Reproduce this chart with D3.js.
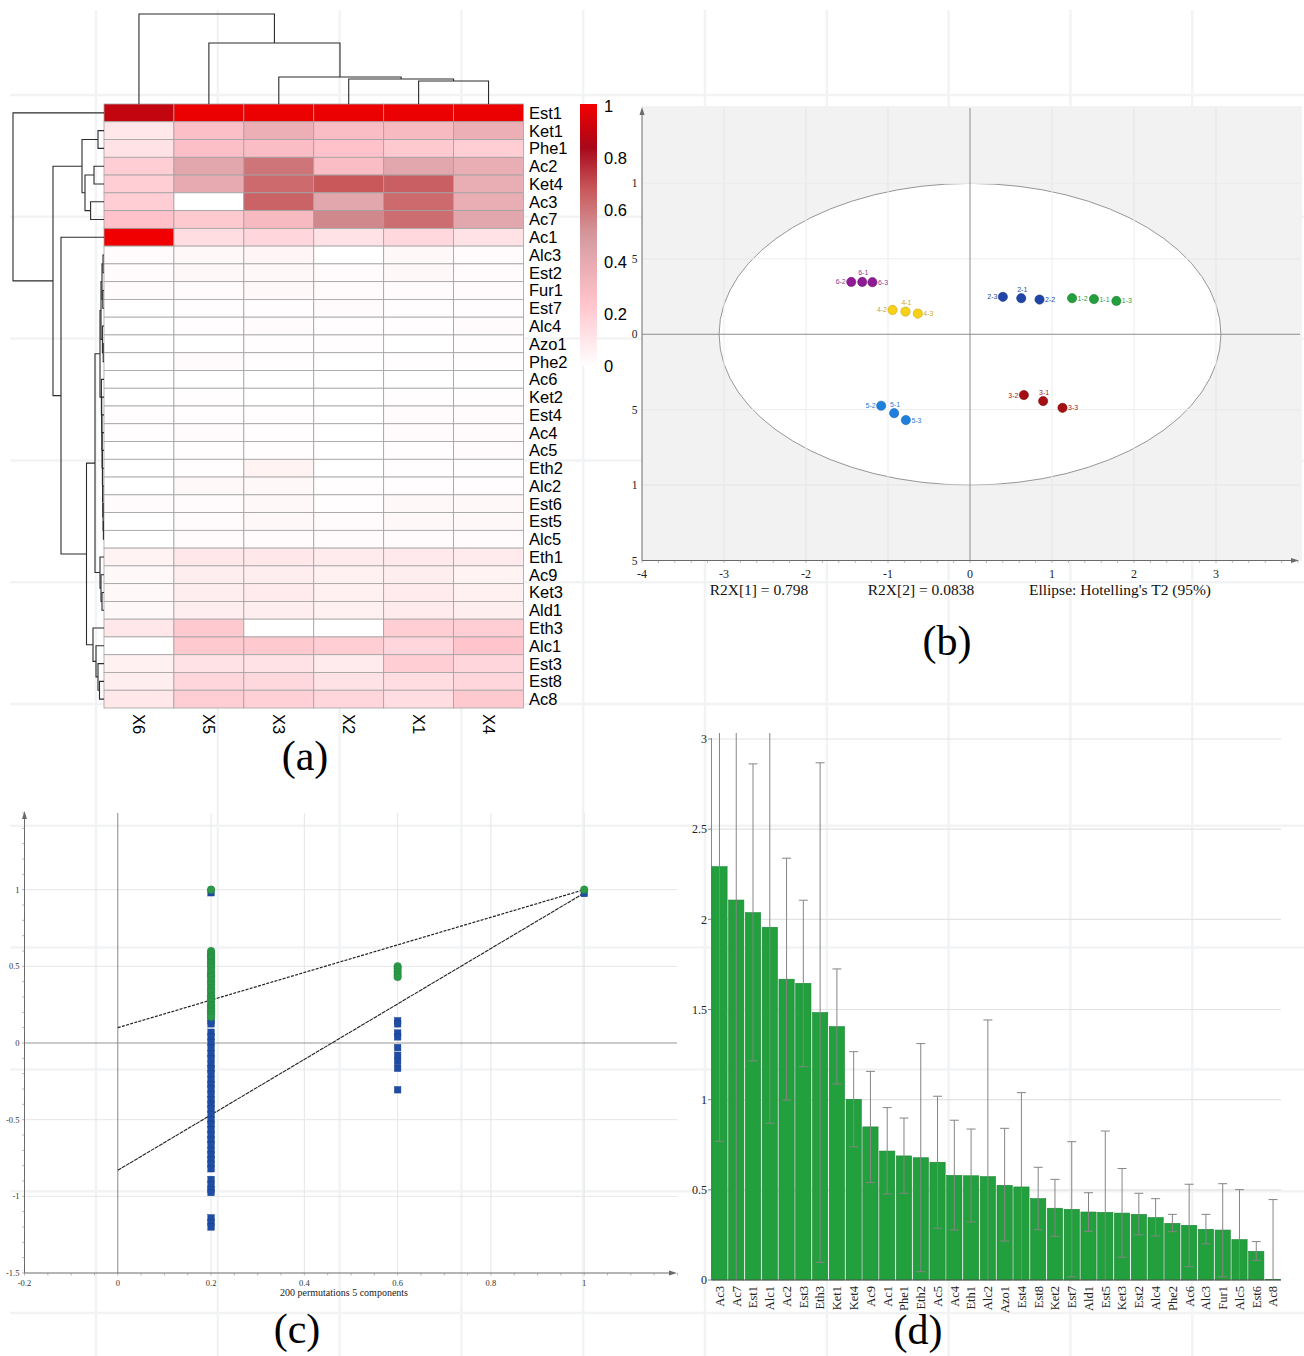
<!DOCTYPE html>
<html><head><meta charset="utf-8">
<script src="https://cdn.jsdelivr.net/npm/d3@7"></script>
<style>body{margin:0;background:#fff}svg{display:block}</style>
</head><body>
<svg id="fig" width="1304" height="1356"></svg>
<script>
// ================= DATA =================
// (a) heatmap
const heatCols = ["X6","X5","X3","X2","X1","X4"];
const heatRows = ["Est1","Ket1","Phe1","Ac2","Ket4","Ac3","Ac7","Ac1","Alc3","Est2","Fur1","Est7","Alc4","Azo1","Phe2","Ac6","Ket2","Est4","Ac4","Ac5","Eth2","Alc2","Est6","Est5","Alc5","Eth1","Ac9","Ket3","Ald1","Eth3","Alc1","Est3","Est8","Ac8"];
const heatValues = [
  [0.90,0.99,0.99,0.99,0.99,0.99],
  [0.10,0.27,0.37,0.28,0.30,0.37],
  [0.12,0.27,0.28,0.25,0.22,0.20],
  [0.20,0.42,0.60,0.28,0.42,0.38],
  [0.20,0.40,0.63,0.68,0.66,0.38],
  [0.20,0.00,0.65,0.42,0.63,0.38],
  [0.25,0.22,0.30,0.55,0.62,0.42],
  [1.00,0.14,0.17,0.12,0.16,0.12],
  [0.02,0.03,0.04,0.00,0.03,0.02],
  [0.02,0.03,0.03,0.02,0.03,0.02],
  [0.02,0.02,0.03,0.02,0.02,0.02],
  [0.00,0.01,0.01,0.02,0.01,0.01],
  [0.00,0.01,0.02,0.01,0.01,0.02],
  [0.00,0.00,0.01,0.01,0.00,0.01],
  [0.00,0.02,0.01,0.00,0.01,0.01],
  [0.00,0.00,0.00,0.00,0.00,0.00],
  [0.00,0.01,0.00,0.00,0.01,0.01],
  [0.01,0.01,0.01,0.00,0.02,0.02],
  [0.01,0.02,0.01,0.00,0.02,0.02],
  [0.00,0.01,0.01,0.00,0.01,0.02],
  [0.00,0.01,0.05,0.00,0.01,0.01],
  [0.00,0.03,0.03,0.01,0.01,0.01],
  [0.02,0.02,0.03,0.01,0.03,0.03],
  [0.00,0.02,0.03,0.02,0.03,0.03],
  [0.00,0.02,0.02,0.02,0.02,0.02],
  [0.05,0.10,0.10,0.08,0.09,0.08],
  [0.03,0.07,0.07,0.06,0.07,0.05],
  [0.03,0.07,0.08,0.06,0.08,0.06],
  [0.03,0.07,0.07,0.06,0.08,0.07],
  [0.10,0.22,0.00,0.00,0.20,0.20],
  [0.00,0.22,0.22,0.20,0.17,0.24],
  [0.06,0.12,0.12,0.08,0.20,0.17],
  [0.07,0.17,0.16,0.12,0.14,0.17],
  [0.10,0.20,0.19,0.17,0.14,0.22]
];
const legendTicks = [0,0.2,0.4,0.6,0.8,1];
const colorStops = [0,0.25,0.5,0.68,0.84,1];
// dendrograms: h = merge height (arbitrary distance units)
const colTree = {h:90,c:["X6",{h:61,c:["X5",{h:27,c:["X3",{h:25,c:["X2",{h:23,c:["X1","X4"]}]}]}]}]};
const rowTree = {h:91,c:["Est1",
  {h:51,c:[
    {h:22,c:[{h:6,c:["Ket1","Phe1"]},{h:19,c:[{h:10,c:["Ac2","Ket4"]},{h:13.4,c:["Ac3","Ac7"]}]}]},
    {h:43,c:["Ac1",
      {h:17.5,c:[
        {h:9,c:[
          {h:4,c:[
            {h:3,c:[{h:2,c:[{h:1,c:["Alc3","Est2"]},{h:1.2,c:["Fur1","Est7"]}]},{h:1.6,c:["Alc4",{h:0.8,c:["Azo1","Phe2"]}]}]},
            {h:2.6,c:["Ac6",{h:2.3,c:["Ket2",{h:2.1,c:["Est4",{h:1.9,c:["Ac4",{h:1.6,c:["Ac5",{h:1.4,c:["Eth2",{h:1.2,c:["Alc2",{h:0.9,c:["Est6",{h:0.6,c:["Est5","Alc5"]}]}]}]}]}]}]}]}]}
          ]},
          {h:4,c:["Eth1",{h:3,c:["Ac9",{h:2,c:["Ket3","Ald1"]}]}]}
        ]},
        {h:11,c:["Eth3",{h:8,c:["Alc1",{h:6,c:["Est3",{h:4.5,c:["Est8","Ac8"]}]}]}]}
      ]}
    ]}
  ]}
]};

// (b) PCA scores
const scoreIds = ["1-1","1-2","1-3","2-1","2-2","2-3","3-1","3-2","3-3","4-1","4-2","4-3","5-1","5-2","5-3","6-1","6-2","6-3"];
const scoreGroup = [1,1,1,2,2,2,3,3,3,4,4,4,5,5,5,6,6,6];
const scoreT1 = [1.512,1.245,1.785,0.625,0.848,0.401,0.892,0.657,1.128,-0.787,-0.945,-0.636,-0.925,-1.083,-0.782,-1.314,-1.448,-1.190];
const scoreT2 = [0.233,0.239,0.221,0.239,0.230,0.248,-0.443,-0.403,-0.488,0.150,0.161,0.137,-0.523,-0.474,-0.569,0.347,0.347,0.345];
const ellipseAxes = [3.06, 1.0];
const pcaXTicks = [-4,-3,-2,-1,0,1,2,3];
const pcaYTicks = [-1.5,-1,-0.5,0,0.5,1];
const pcaNotes = ["R2X[1] = 0.798","R2X[2] = 0.0838","Ellipse: Hotelling's T2 (95%)"];

// (c) permutation test
const r2X = [1, 0.2,0.2,0.2,0.2,0.2,0.2,0.2,0.2,0.2,0.2,0.2,0.2,0.2,0.2,0.2,0.2,0.2,0.2,0.2,0.2,0.2,0.2,0.2,0.2,0.2,0.2,0.2,0.2,0.2,0.2,0.2, 0.6,0.6,0.6,0.6,0.6];
const r2Y = [1.0, 1.0,0.60,0.585,0.57,0.56,0.548,0.53,0.52,0.505,0.49,0.47,0.455,0.44,0.43,0.41,0.395,0.38,0.36,0.345,0.33,0.31,0.30,0.285,0.27,0.25,0.24,0.225,0.21,0.20,0.185,0.17, 0.50,0.485,0.465,0.445,0.43];
const q2X = [1, 0.2,0.2,0.2,0.2,0.2,0.2,0.2,0.2,0.2,0.2,0.2,0.2,0.2,0.2,0.2,0.2,0.2,0.2,0.2,0.2,0.2,0.2,0.2,0.2,0.2,0.2,0.2,0.2,0.2,0.2,0.2,0.2,0.2,0.2,0.2,0.2,0.2,0.2, 0.6,0.6,0.6,0.6,0.6,0.6,0.6,0.6,0.6];
const q2Y = [0.975, 0.98,0.145,0.125,0.07,0.04,0.005,-0.03,-0.07,-0.10,-0.14,-0.17,-0.20,-0.24,-0.27,-0.30,-0.335,-0.37,-0.40,-0.43,-0.465,-0.50,-0.53,-0.565,-0.60,-0.63,-0.665,-0.70,-0.73,-0.76,-0.79,-0.82,-0.89,-0.925,-0.955,-0.975,-1.14,-1.17,-1.20, 0.145,0.125,0.065,0.04,-0.03,-0.08,-0.12,-0.165,-0.305];
const r2Line = [[0,0.10],[1,1.0]];
const q2Line = [[0,-0.83],[1,0.978]];
const permXTicks = [-0.2,0,0.2,0.4,0.6,0.8,1];
const permYTicks = [-1.5,-1,-0.5,0,0.5,1];
const permLabel = "200 permutations 5 components";

// (d) VIP
const vipNames = ["Ac3","Ac7","Est1","Alc1","Ac2","Est3","Eth3","Ket1","Ket4","Ac9","Ac1","Phe1","Eth2","Ac5","Ac4","Eth1","Alc2","Azo1","Est4","Est8","Ket2","Est7","Ald1","Est5","Ket3","Est2","Alc4","Phe2","Ac6","Alc3","Fur1","Alc5","Est6","Ac8"];
const vipValues = [2.292,2.107,2.037,1.956,1.668,1.645,1.483,1.405,1.002,0.849,0.715,0.688,0.678,0.653,0.580,0.578,0.573,0.525,0.516,0.451,0.398,0.392,0.377,0.375,0.371,0.364,0.346,0.314,0.303,0.281,0.277,0.224,0.159,0.004];
const vipLow  = [0.769,-0.20,1.215,0.869,0.998,1.183,0.098,1.087,0.739,0.540,0.477,0.481,0.046,0.287,0.277,0.322,-0.296,0.216,-0.007,0.279,0.242,0.018,0.270,-0.076,0.126,0.251,0.244,0.268,0.074,0.201,0.018,-0.053,0.109,-0.438];
const vipHigh = [3.815,4.40,2.862,3.043,2.339,2.106,2.868,1.725,1.266,1.157,0.956,0.898,1.311,1.019,0.886,0.837,1.442,0.841,1.039,0.625,0.558,0.767,0.484,0.826,0.618,0.481,0.451,0.364,0.531,0.364,0.534,0.501,0.213,0.446];
const vipTicks = [0,0.5,1,1.5,2,2.5,3];
const panelLabels = ["(a)","(b)","(c)","(d)"];

// ================= DRAW =================
const SANS = "'Liberation Sans', Arial, sans-serif";
const SERIF = "'Liberation Serif', 'Times New Roman', serif";
const svg = d3.select("#fig");
const defs = svg.append("defs");
svg.append("rect").attr("width",1304).attr("height",1356).attr("fill","#fff");

// faint page grid (background texture of the figure)
const pg = svg.append("g").attr("stroke","#f2f3f4").attr("stroke-width",2.5);
d3.range(96,1304,121.8).forEach(x=>pg.append("line").attr("x1",x).attr("x2",x).attr("y1",10).attr("y2",1356));
d3.range(95,1356,121.8).forEach(y=>pg.append("line").attr("y1",y).attr("y2",y).attr("x1",10).attr("x2",1304));

// ---------- (a) heatmap ----------
const gA = svg.append("g");
const xH = d3.scaleBand(heatCols,[104,523.5]);
const yH = d3.scaleBand(heatRows,[104,708]);
const heatColor = d3.scaleLinear().domain(colorStops)
  .range(["#FFFFFF","#FFC2CA","#D59A9F","#C8585A","#A8081A","#F00000"]).clamp(true);

heatRows.forEach((r,i)=>{
  heatCols.forEach((c,j)=>{
    gA.append("rect").attr("x",xH(c)).attr("y",yH(r))
      .attr("width",xH.bandwidth()).attr("height",yH.bandwidth())
      .attr("fill",heatColor(heatValues[i][j]))
      .attr("stroke","#a2a2a2").attr("stroke-width",0.8);
  });
  gA.append("text").attr("x",529).attr("y",yH(r)+yH.bandwidth()/2).attr("dy","0.36em")
    .attr("font-family",SANS).attr("font-size",16.5).attr("fill","#000").text(r);
});
heatCols.forEach(c=>{
  gA.append("text").attr("transform",`translate(${xH(c)+xH.bandwidth()/2},714) rotate(90)`)
    .attr("dy","0.36em").attr("font-family",SANS).attr("font-size",16.5).attr("fill","#000").text(c);
});

function drawTree(node,posOf,elbow){
  if(typeof node==="string") return {p:posOf(node),h:0};
  const k=node.c.map(n=>drawTree(n,posOf,elbow));
  elbow(k[0],k[1],node.h);
  return {p:(k[0].p+k[1].p)/2,h:node.h};
}
const dendroG = gA.append("g").attr("fill","none").attr("stroke","#2b2b2b").attr("stroke-width",1.1);
const rowH = d3.scaleLinear([0,91],[104,13]);
drawTree(rowTree, r=>yH(r)+yH.bandwidth()/2, (a,b,h)=>{
  dendroG.append("path").attr("d",`M${rowH(a.h)},${a.p}H${rowH(h)}V${b.p}H${rowH(b.h)}`);
});
const colH = d3.scaleLinear([0,90],[104,14]);
drawTree(colTree, c=>xH(c)+xH.bandwidth()/2, (a,b,h)=>{
  dendroG.append("path").attr("d",`M${a.p},${colH(a.h)}V${colH(h)}H${b.p}V${colH(b.h)}`);
});

// legend
const legY = d3.scaleLinear([0,1],[366,106]);
const grad = defs.append("linearGradient").attr("id","heatGrad")
  .attr("gradientUnits","userSpaceOnUse").attr("x1",0).attr("x2",0).attr("y1",legY(0)).attr("y2",legY(1));
d3.range(0,1.0001,0.04).forEach(v=>grad.append("stop").attr("offset",v).attr("stop-color",heatColor(v)));
gA.append("rect").attr("x",580).attr("y",104).attr("width",17).attr("height",262).attr("fill","url(#heatGrad)");
legendTicks.forEach(t=>{
  gA.append("text").attr("x",604).attr("y",legY(t)).attr("dy","0.36em")
    .attr("font-family",SANS).attr("font-size",16.5).attr("fill","#000").text(String(t));
});

// ---------- (b) PCA score plot ----------
const gB = svg.append("g");
const xB = d3.scaleLinear([-4,4],[642,1298]);
const yB = d3.scaleLinear([-1.5,1.5],[560.5,108]);
gB.append("rect").attr("x",642).attr("y",106).attr("width",660).attr("height",455).attr("fill","#f2f2f2");
pcaXTicks.filter(t=>t!==0&&t!==-4).forEach(t=>gB.append("line").attr("x1",xB(t)).attr("x2",xB(t)).attr("y1",108).attr("y2",560.5).attr("stroke","#e2e2e2").attr("stroke-width",1));
pcaYTicks.filter(t=>t!==0&&t!==-1.5).forEach(t=>gB.append("line").attr("y1",yB(t)).attr("y2",yB(t)).attr("x1",642).attr("x2",1300).attr("stroke","#e2e2e2").attr("stroke-width",1));
gB.append("ellipse").attr("cx",xB(0)).attr("cy",yB(0))
  .attr("rx",xB(ellipseAxes[0])-xB(0)).attr("ry",yB(0)-yB(ellipseAxes[1]))
  .attr("fill","#fff").attr("stroke","#8a8a8a").attr("stroke-width",0.9);
pcaXTicks.filter(t=>t!==0&&t!==-4).forEach(t=>gB.append("line").attr("x1",xB(t)).attr("x2",xB(t)).attr("y1",108).attr("y2",560.5).attr("stroke","#ededed").attr("stroke-width",1));
pcaYTicks.filter(t=>t!==0&&t!==-1.5).forEach(t=>gB.append("line").attr("y1",yB(t)).attr("y2",yB(t)).attr("x1",642).attr("x2",1300).attr("stroke","#ededed").attr("stroke-width",1));
gB.append("line").attr("x1",642).attr("x2",1300).attr("y1",yB(0)).attr("y2",yB(0)).attr("stroke","#8c8c8c").attr("stroke-width",1);
gB.append("line").attr("x1",xB(0)).attr("x2",xB(0)).attr("y1",108).attr("y2",560.5).attr("stroke","#8c8c8c").attr("stroke-width",1);
// axes
gB.append("line").attr("x1",642).attr("x2",1296).attr("y1",560.5).attr("y2",560.5).attr("stroke","#6a6a6a");
gB.append("line").attr("x1",642).attr("x2",642).attr("y1",560.5).attr("y2",112).attr("stroke","#6a6a6a");
gB.append("path").attr("d","M1299,560.5L1291,558L1291,563Z").attr("fill","#6a6a6a");
gB.append("path").attr("d","M642,107L639.5,115L644.5,115Z").attr("fill","#6a6a6a");
d3.range(-4,4.01,0.2).forEach(t=>gB.append("line").attr("x1",xB(t)).attr("x2",xB(t)).attr("y1",560.5).attr("y2",563).attr("stroke","#8a8a8a").attr("stroke-width",0.6));
pcaXTicks.forEach(t=>gB.append("text").attr("x",xB(t)).attr("y",578).attr("text-anchor","middle")
  .attr("font-family",SERIF).attr("font-size",12).attr("fill","#222").text(String(t)));
// in the figure the left part of these y tick labels is covered by panel (a); only the last character shows
pcaYTicks.forEach(t=>gB.append("text").attr("x",637.5).attr("y",yB(t)).attr("dy","0.35em").attr("text-anchor","end")
  .attr("font-family",SERIF).attr("font-size",11.5).attr("fill","#222").text(String(t).slice(-1)));
const noteX = [759,921,1120];
pcaNotes.forEach((s,i)=>gB.append("text").attr("x",noteX[i]).attr("y",595).attr("text-anchor","middle")
  .attr("font-family",SERIF).attr("font-size",15.5).attr("fill","#111").text(s));

const groupFill = {1:"#23a03d",2:"#1f45a6",3:"#a30f12",4:"#f7d117",5:"#1e7fdc",6:"#8e1b94"};
const groupStroke = {1:"#178030",2:"#163585",3:"#7e0a0c",4:"#c9a40a",5:"#1665b5",6:"#6e1373"};
const groupText = {1:"#2a9a45",2:"#2a4aa0",3:"#a31a1a",4:"#d4a90a",5:"#1f7fd6",6:"#8e3a94"};
scoreIds.forEach((id,i)=>{
  const g=scoreGroup[i], cx=xB(scoreT1[i]), cy=yB(scoreT2[i]);
  gB.append("circle").attr("cx",cx).attr("cy",cy).attr("r",4.6)
    .attr("fill",groupFill[g]).attr("stroke",groupStroke[g]).attr("stroke-width",0.6);
  const members = scoreIds.map((d,k)=>k).filter(k=>scoreGroup[k]===g).sort((a,b)=>scoreT1[a]-scoreT1[b]);
  const rank = members.indexOf(i);
  const side = g===1 ? "r" : ["l","t","r"][rank];
  const t = gB.append("text").attr("font-family",SANS).attr("font-size",7).attr("fill",groupText[g]).text(id);
  if(side==="l") t.attr("x",cx-5.5).attr("y",cy+2.5).attr("text-anchor","end");
  else if(side==="r") t.attr("x",cx+5.5).attr("y",cy+2.5).attr("text-anchor","start");
  else t.attr("x",cx+1).attr("y",cy-6.5).attr("text-anchor","middle");
});

// ---------- (c) permutation plot ----------
const gC = svg.append("g");
const xC = d3.scaleLinear([-0.2,1.2],[24.5,677.5]);
const yC = d3.scaleLinear([-1.5,1.5],[1273,813]);
[0.2,0.4,0.6,0.8,1].forEach(t=>gC.append("line").attr("x1",xC(t)).attr("x2",xC(t)).attr("y1",813).attr("y2",1273).attr("stroke","#e6e6e6"));
[-1,-0.5,0.5,1].forEach(t=>gC.append("line").attr("y1",yC(t)).attr("y2",yC(t)).attr("x1",24.5).attr("x2",677).attr("stroke","#e6e6e6"));
gC.append("line").attr("x1",xC(0)).attr("x2",xC(0)).attr("y1",813).attr("y2",1273).attr("stroke","#7a7a7a").attr("stroke-width",0.9);
gC.append("line").attr("x1",24.5).attr("x2",677).attr("y1",yC(0)).attr("y2",yC(0)).attr("stroke","#8a8a8a").attr("stroke-width",0.9);
gC.append("line").attr("x1",24.5).attr("x2",673).attr("y1",1273).attr("y2",1273).attr("stroke","#6a6a6a");
gC.append("line").attr("x1",24.5).attr("x2",24.5).attr("y1",1273).attr("y2",818).attr("stroke","#6a6a6a");
gC.append("path").attr("d","M677,1273L669,1270.5L669,1275.5Z").attr("fill","#6a6a6a");
gC.append("path").attr("d","M24.5,811L22,819L27,819Z").attr("fill","#6a6a6a");
d3.range(-0.2,1.21,0.05).forEach(t=>gC.append("line").attr("x1",xC(t)).attr("x2",xC(t)).attr("y1",1273).attr("y2",1275.5).attr("stroke","#8a8a8a").attr("stroke-width",0.6));
d3.range(-1.5,1.51,0.1).forEach(t=>gC.append("line").attr("x1",22).attr("x2",24.5).attr("y1",yC(t)).attr("y2",yC(t)).attr("stroke","#8a8a8a").attr("stroke-width",0.6));
permXTicks.forEach(t=>gC.append("text").attr("x",xC(t)).attr("y",1285.5).attr("text-anchor","middle")
  .attr("font-family",SERIF).attr("font-size",8.5).attr("fill","#333").text(String(t)));
permYTicks.forEach(t=>gC.append("text").attr("x",19.5).attr("y",yC(t)).attr("dy","0.35em").attr("text-anchor","end")
  .attr("font-family",SERIF).attr("font-size",8.5).attr("fill","#333").text(String(t)));
gC.append("text").attr("x",344).attr("y",1296).attr("text-anchor","middle")
  .attr("font-family",SERIF).attr("font-size",10).attr("fill","#222").text(permLabel);
const permLine = d3.line().x(d=>xC(d[0])).y(d=>yC(d[1]));
gC.append("path").attr("d",permLine(r2Line)).attr("fill","none").attr("stroke","#222").attr("stroke-width",1.2).attr("stroke-dasharray","3,1.3");
gC.append("path").attr("d",permLine(q2Line)).attr("fill","none").attr("stroke","#222").attr("stroke-width",1.1).attr("stroke-dasharray","4,0.8");
q2Y.forEach((v,i)=>gC.append("rect").attr("x",xC(q2X[i])-3.3).attr("y",yC(v)-3.3).attr("width",6.6).attr("height",6.6)
  .attr("fill","#1f4da6").attr("stroke","#183e88").attr("stroke-width",0.4));
r2Y.forEach((v,i)=>gC.append("circle").attr("cx",xC(r2X[i])).attr("cy",yC(v)).attr("r",3.8)
  .attr("fill","#2b9a47").attr("stroke","#1e7d37").attr("stroke-width",0.4));

// ---------- (d) VIP bars ----------
const gD = svg.append("g");
const xD = d3.scaleBand(vipNames,[711.5,1281]).paddingInner(0.09).paddingOuter(0.02);
const yD = d3.scaleLinear([0,3],[1280,739]);
vipTicks.filter(t=>t>0).forEach(t=>gD.append("line").attr("x1",711.5).attr("x2",1281).attr("y1",yD(t)).attr("y2",yD(t)).attr("stroke","#e3e3e3").attr("stroke-width",1.2));
gD.append("line").attr("x1",711.5).attr("x2",711.5).attr("y1",738).attr("y2",1280).attr("stroke","#8a8a8a");
vipTicks.forEach(t=>{
  gD.append("line").attr("x1",708).attr("x2",711.5).attr("y1",yD(t)).attr("y2",yD(t)).attr("stroke","#8a8a8a");
  gD.append("text").attr("x",707).attr("y",yD(t)).attr("dy","0.35em").attr("text-anchor","end")
    .attr("font-family",SERIF).attr("font-size",12).attr("fill","#222").text(String(t));
});
vipNames.forEach((n,i)=>{
  gD.append("rect").attr("x",xD(n)).attr("y",yD(vipValues[i])).attr("width",xD.bandwidth())
    .attr("height",yD(0)-yD(vipValues[i])).attr("fill","#22a03d").attr("stroke","#1a8432").attr("stroke-width",0.6);
});
const clipD = defs.append("clipPath").attr("id","clipD");
clipD.append("rect").attr("x",705).attr("y",733).attr("width",590).attr("height",547);
const eb = gD.append("g").attr("clip-path","url(#clipD)").attr("stroke","#858585").attr("stroke-width",1);
vipNames.forEach((n,i)=>{
  const cx = xD(n)+xD.bandwidth()/2;
  eb.append("line").attr("x1",cx).attr("x2",cx).attr("y1",yD(vipLow[i])).attr("y2",yD(vipHigh[i]));
  [vipLow[i],vipHigh[i]].forEach(v=>eb.append("line").attr("x1",cx-4.5).attr("x2",cx+4.5).attr("y1",yD(v)).attr("y2",yD(v)));
});
gD.append("line").attr("x1",711.5).attr("x2",1281).attr("y1",1280).attr("y2",1280).attr("stroke","#555").attr("stroke-width",1.2);
vipNames.forEach(n=>{
  gD.append("text").attr("transform",`translate(${xD(n)+xD.bandwidth()/2},1286) rotate(-90)`)
    .attr("dy","0.35em").attr("text-anchor","end").attr("font-family",SERIF).attr("font-size",12.5).attr("fill","#222").text(n);
});

// ---------- panel letters ----------
const letterPos = [[305,770],[947,655],[297,1343],[918,1344]];
panelLabels.forEach((s,i)=>svg.append("text").attr("x",letterPos[i][0]).attr("y",letterPos[i][1]).attr("text-anchor","middle")
  .attr("font-family",SERIF).attr("font-size",42).attr("fill","#000").text(s));
</script>
</body></html>
